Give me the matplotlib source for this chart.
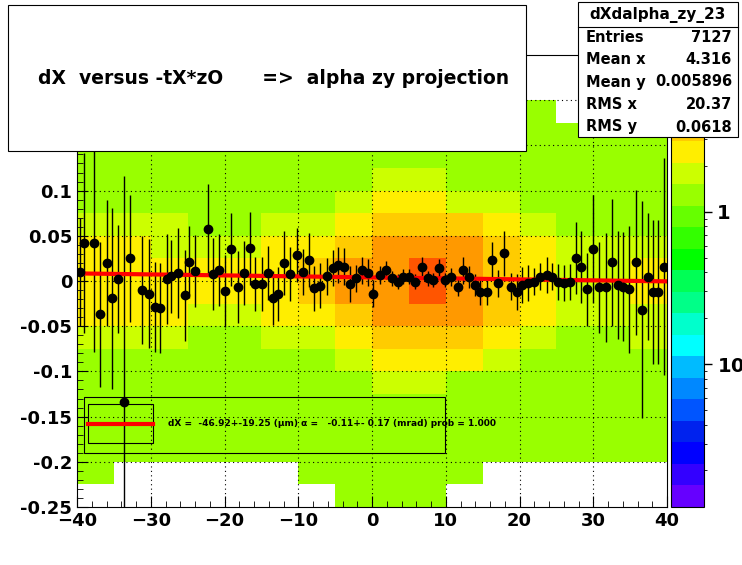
import numpy as np
import matplotlib
matplotlib.use("Agg")
import matplotlib.pyplot as plt
from matplotlib.colors import ListedColormap, LogNorm
from matplotlib.patches import Rectangle

# coarse density grid (rows: y from -0.25 upward in 0.025 steps; cols: x from -40 in 5 steps)
x_edges = np.arange(-40, 41, 5)
y_edges = np.round(np.arange(-0.25, 0.2501, 0.025), 3)
density = [
    [0.3, 0.3, 0.2, 0.3, 0.2, 0.3, 0.3, 0.4, 0.4, 0.4, 0.3, 0.3, 0.2, 0.3, 0.3, 0.2],
    [0.4, 0.3, 0.3, 0.3, 0.3, 0.3, 0.4, 0.4, 0.5, 0.4, 0.4, 0.3, 0.3, 0.3, 0.3, 0.3],
    [0.5, 0.4, 0.4, 0.4, 0.4, 0.4, 0.5, 0.5, 0.6, 0.5, 0.5, 0.4, 0.4, 0.4, 0.4, 0.4],
    [0.6, 0.6, 0.5, 0.5, 0.5, 0.5, 0.6, 0.7, 0.8, 0.8, 0.7, 0.6, 0.5, 0.5, 0.5, 0.5],
    [0.8, 0.8, 0.7, 0.6, 0.6, 0.7, 0.8, 1.0, 1.2, 1.2, 1.0, 0.9, 0.7, 0.6, 0.6, 0.7],
    [1.1, 1.0, 0.9, 0.8, 0.8, 0.9, 1.1, 1.4, 1.8, 1.8, 1.5, 1.2, 0.9, 0.8, 0.8, 0.9],
    [1.5, 1.4, 1.2, 1.1, 1.1, 1.2, 1.5, 2.0, 2.6, 2.6, 2.2, 1.7, 1.2, 1.1, 1.1, 1.2],
    [2.0, 1.9, 1.7, 1.5, 1.5, 1.7, 2.1, 2.8, 3.6, 3.8, 3.2, 2.4, 1.7, 1.5, 1.4, 1.6],
    [2.4, 2.3, 2.2, 2.0, 2.0, 2.3, 2.8, 3.6, 4.6, 4.8, 4.2, 3.2, 2.2, 1.9, 1.8, 2.0],
    [2.6, 2.5, 2.4, 2.2, 2.2, 2.6, 3.2, 4.2, 5.4, 5.6, 5.0, 3.8, 2.6, 2.1, 2.0, 2.2],
    [2.6, 2.5, 2.4, 2.2, 2.2, 2.6, 3.2, 4.2, 5.4, 5.6, 5.0, 3.8, 2.6, 2.1, 2.0, 2.2],
    [2.3, 2.2, 2.1, 1.9, 1.9, 2.2, 2.8, 3.6, 4.6, 4.8, 4.2, 3.2, 2.2, 1.8, 1.7, 1.9],
    [1.8, 1.7, 1.6, 1.4, 1.4, 1.6, 2.1, 2.8, 3.6, 3.8, 3.2, 2.4, 1.6, 1.4, 1.3, 1.5],
    [1.3, 1.2, 1.1, 1.0, 1.0, 1.1, 1.4, 1.9, 2.5, 2.5, 2.1, 1.6, 1.1, 1.0, 1.0, 1.1],
    [0.9, 0.9, 0.8, 0.7, 0.7, 0.8, 1.0, 1.3, 1.7, 1.7, 1.4, 1.1, 0.8, 0.7, 0.7, 0.8],
    [0.7, 0.7, 0.6, 0.5, 0.5, 0.6, 0.7, 0.9, 1.1, 1.1, 1.0, 0.8, 0.6, 0.5, 0.5, 0.6],
    [0.5, 0.5, 0.5, 0.4, 0.4, 0.5, 0.5, 0.6, 0.7, 0.7, 0.6, 0.5, 0.5, 0.4, 0.4, 0.4],
    [0.4, 0.4, 0.4, 0.3, 0.3, 0.4, 0.4, 0.5, 0.5, 0.5, 0.5, 0.4, 0.4, 0.3, 0.3, 0.3],
    [0.4, 0.3, 0.3, 0.3, 0.3, 0.3, 0.4, 0.4, 0.4, 0.4, 0.4, 0.3, 0.3, 0.3, 0.3, 0.3],
    [0.3, 0.3, 0.3, 0.2, 0.3, 0.3, 0.3, 0.3, 0.4, 0.4, 0.3, 0.3, 0.3, 0.2, 0.3, 0.3],
]

prof_x = [-39.6, -39.1, -37.7, -36.9, -36.0, -35.2, -34.4, -33.6, -32.8, -31.2, -30.3, -29.4, -28.7,
          -27.8, -27.2, -26.3, -25.4, -24.8, -24.0, -22.3, -21.5, -20.7, -19.9, -19.1, -18.2, -17.4,
          -16.6, -15.8, -14.9, -14.1, -13.4, -12.7, -11.9, -11.1, -10.2, -9.4, -8.6, -7.8, -7.0, -6.1,
          -5.3, -4.6, -3.8, -3.0, -2.2, -1.4, -0.6, 0.18, 1.08, 1.85, 2.67, 3.57, 4.25, 5.06, 5.83,
          6.73, 7.55, 8.32, 9.08, 9.9, 10.7, 11.6, 12.4, 13.1, 13.9, 14.7, 15.55, 16.3, 17.1, 17.9,
          18.8, 19.6, 20.4, 21.2, 22.0, 22.8, 23.7, 24.45, 25.2, 26.0, 26.8, 27.6, 28.4, 29.2, 30.0,
          30.8, 31.7, 32.5, 33.3, 34.1, 34.9, 35.75, 36.6, 37.4, 38.05, 38.8, 39.6]
prof_y = [0.010, 0.042, 0.042, -0.037, 0.020, -0.019, 0.002, -0.134, 0.025, -0.010, -0.014, -0.029,
          -0.030, 0.002, 0.005, 0.009, -0.016, 0.021, 0.011, 0.057, 0.008, 0.012, -0.011, 0.035,
          -0.007, 0.009, 0.036, -0.003, -0.003, 0.009, -0.019, -0.014, 0.020, 0.008, 0.029, 0.010,
          0.023, -0.008, -0.005, 0.005, 0.014, 0.018, 0.016, -0.003, 0.003, 0.012, 0.009,
          -0.014, 0.0067, 0.012, 0.003, -0.0007, 0.0048, 0.0048, -0.0007, 0.016, 0.003, 0.0011,
          0.014, 0.0011, 0.0048, -0.007, 0.012, 0.0048, -0.0044, -0.012, -0.012, 0.0233, -0.0026,
          0.0307, -0.0063, -0.012, -0.0044, -0.0026, -0.0007, 0.0048, 0.0067, 0.0048, -0.0007,
          -0.0026, -0.0007, 0.0252, 0.0152, -0.0093, 0.0352, -0.007, -0.007, 0.0207, -0.0044,
          -0.0063, -0.0093, 0.0207, -0.032, 0.0048, -0.012, -0.012, 0.016]
prof_err = [0.06, 0.10, 0.12, 0.08, 0.07, 0.10, 0.06, 0.25, 0.07, 0.06, 0.06, 0.05, 0.05, 0.05,
            0.04, 0.05, 0.05, 0.04, 0.04, 0.05, 0.04, 0.04, 0.04, 0.04, 0.04, 0.035, 0.04, 0.03,
            0.03, 0.03, 0.03, 0.03, 0.035, 0.03, 0.03, 0.025, 0.03, 0.025, 0.025, 0.02, 0.02, 0.02,
            0.02, 0.02, 0.015, 0.015, 0.015, 0.015, 0.01, 0.01, 0.008, 0.008, 0.008, 0.008, 0.008,
            0.01, 0.008, 0.008, 0.01, 0.008, 0.01, 0.01, 0.015, 0.012, 0.012, 0.015, 0.015, 0.02,
            0.015, 0.025, 0.015, 0.02, 0.02, 0.02, 0.015, 0.015, 0.02, 0.015, 0.02, 0.02, 0.02,
            0.04, 0.04, 0.04, 0.06, 0.05, 0.06, 0.07, 0.06, 0.06, 0.07, 0.08, 0.12, 0.07, 0.08,
            0.08, 0.12]
fit_p0 = 0.004
fit_p1 = -0.00011

palette = ["#6600ff", "#3300ff", "#0000ff", "#0022ee", "#0055ff", "#0088ff", "#00bbff",
           "#00ffff", "#00ffcc", "#00ff88", "#00ff55", "#00ff00", "#33ff00", "#66ff00",
           "#99ff00", "#ccff00", "#ffee00", "#ffcc00", "#ff9900", "#ff5500", "#ff0000"]
cmap = ListedColormap(palette)
cmap.set_bad("white")
cmap.set_under("white")

fig = plt.figure(figsize=(7.42, 5.65), dpi=100)
ax = fig.add_axes([77/742, 1-507/565, 590/742, 452/565])
arr = np.array(density)
D = np.ma.masked_less(np.clip(arr, 1.15, None) * (arr >= 0.35), 0.5)
norm = LogNorm(vmin=0.0115, vmax=10.7)
mesh = ax.pcolormesh(x_edges, y_edges, D, cmap=cmap, norm=norm)
ax.set_xlim(-40, 40)
ax.set_ylim(-0.25, 0.25)
for xv in range(-30, 40, 10):
    ax.axvline(xv, color="black", ls=(0, (1, 3)), lw=0.8)
for yv in [-0.2, -0.15, -0.1, -0.05, 0, 0.05, 0.1, 0.15, 0.2]:
    ax.axhline(yv, color="black", ls=(0, (1, 3)), lw=0.8)

ax.errorbar(prof_x, prof_y, yerr=prof_err, fmt="o", color="black", ms=6, elinewidth=1, capsize=0)
fx = np.array([-40, 40])
ax.plot(fx, fit_p0 + fit_p1 * fx, color="red", lw=3)

ax.set_xticks(range(-40, 41, 10))
ax.set_yticks([-0.25, -0.2, -0.15, -0.1, -0.05, 0, 0.05, 0.1, 0.15])
ax.set_yticklabels(["-0.25", "-0.2", "-0.15", "-0.1", "-0.05", "0", "0.05", "0.1", "0.15"])
ax.tick_params(labelsize=13, direction="in", length=8, top=False, right=False)
for lab in ax.get_xticklabels() + ax.get_yticklabels():
    lab.set_fontweight("bold")
ax.minorticks_on()
ax.tick_params(which="minor", direction="in", length=4)

# fit legend
ax.add_patch(Rectangle((-39.1, -0.19), 49.0, 0.062, fill=False, lw=0.8, zorder=5))
ax.add_patch(Rectangle((-38.5, -0.179), 8.8, 0.043, fill=False, lw=0.8, zorder=5))
ax.plot([-38.5, -29.7], [-0.158, -0.158], color="red", lw=3, zorder=6)
ax.text(-27.6, -0.158, "dX =  -46.92+-19.25 (\u00b5m) \u03b1 =   -0.11+- 0.17 (mrad) prob = 1.000",
        fontsize=6.5, fontweight="bold", va="center", zorder=6)

# colorbar
cax = fig.add_axes([671/742, 1-507/565, 33/742, 452/565])
cb = fig.colorbar(mesh, cax=cax)
cb.set_ticks([0.1, 1])
cb.set_ticklabels(["10$^{-1}$", "1"])
cax.tick_params(labelsize=14, length=6, width=1)
for lab in cax.get_yticklabels():
    lab.set_fontweight("bold")
cb.outline.set_linewidth(0.8)

# title box
fig.patches.append(Rectangle((8/742, 1-151/565), 518/742, 146/565, transform=fig.transFigure,
                             facecolor="white", edgecolor="black", lw=0.8, zorder=10))
fig.text(274/742, 1-78/565, "dX  versus -tX*zO      =>  alpha zy projection", fontsize=13.5,
         fontweight="bold", ha="center", va="center", zorder=11)

# stats box
fig.patches.append(Rectangle((578/742, 1-137/565), 160/742, 135/565, transform=fig.transFigure,
                             facecolor="white", edgecolor="black", lw=0.8, zorder=10))
fig.lines.append(plt.Line2D([578/742, 738/742], [1-27/565, 1-27/565], transform=fig.transFigure,
                            color="black", lw=0.8, zorder=11))
fig.text(658/742, 1-15/565, "dXdalpha_zy_23", fontsize=11, fontweight="bold", ha="center", va="center", zorder=11)
rows = [("Entries", "7127"), ("Mean x", "4.316"), ("Mean y", "0.005896"), ("RMS x", "20.37"), ("RMS y", "0.0618")]
for i, (k, v) in enumerate(rows):
    yy = 1 - (37 + i * 22.5) / 565
    fig.text(586/742, yy, k, fontsize=10.5, fontweight="bold", va="center", zorder=11)
    fig.text(732/742, yy, v, fontsize=10.5, fontweight="bold", va="center", ha="right", zorder=11)

fig.savefig("out.png", dpi=100)
